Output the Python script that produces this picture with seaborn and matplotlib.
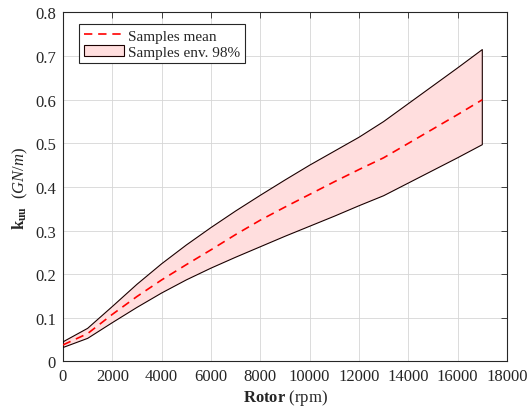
import numpy as np
import pandas as pd
import seaborn as sns
import matplotlib
matplotlib.use("Agg")
import matplotlib.pyplot as plt
from matplotlib.lines import Line2D
from matplotlib.patches import Patch

rpm = [0, 1000, 2000, 3000, 4000, 5000, 6000, 7000, 8000, 9000,
       10000, 11000, 12000, 13000, 14000, 15000, 16000, 17000]
env_upper = [0.045, 0.076, 0.126, 0.177, 0.224, 0.267, 0.307, 0.345, 0.381,
             0.416, 0.450, 0.482, 0.514, 0.550, 0.591, 0.632, 0.673, 0.715]
env_lower = [0.032, 0.053, 0.089, 0.124, 0.157, 0.187, 0.214, 0.239, 0.263,
             0.287, 0.310, 0.333, 0.357, 0.380, 0.409, 0.438, 0.467, 0.497]
mean_vals = [0.038, 0.064, 0.108, 0.149, 0.187, 0.222, 0.256, 0.291, 0.324,
             0.354, 0.383, 0.412, 0.440, 0.467, 0.500, 0.533, 0.566, 0.600]
xticks = [0, 2000, 4000, 6000, 8000, 10000, 12000, 14000, 16000, 18000]
yticks = [0, 0.1, 0.2, 0.3, 0.4, 0.5, 0.6, 0.7, 0.8]

sns.set_theme(style="white")
plt.rcParams['font.family'] = ['Liberation Serif', 'DejaVu Serif']
plt.rcParams['mathtext.fontset'] = 'custom'
plt.rcParams['mathtext.rm'] = 'Liberation Serif'
plt.rcParams['mathtext.bf'] = 'Liberation Serif:bold'
plt.rcParams['mathtext.it'] = 'Liberation Serif:italic'

df = pd.DataFrame({"rpm": rpm, "mean": mean_vals, "lo": env_lower, "hi": env_upper})

fig = plt.figure(figsize=(5.27, 4.14), dpi=100)
ax = fig.add_axes([0.1195, 0.1244, 0.8425, 0.843])

ax.grid(True, color='#d6d6d6', linewidth=0.6, zorder=0)
ax.set_axisbelow(True)

ax.fill_between(df["rpm"], df["lo"], df["hi"], facecolor='#ffdede',
                edgecolor='none', zorder=2)
poly_x = list(df["rpm"]) + list(df["rpm"][::-1]) + [df["rpm"].iloc[0]]
poly_y = list(df["hi"]) + list(df["lo"][::-1]) + [df["hi"].iloc[0]]
ax.plot(poly_x, poly_y, color='#1a0000', linewidth=0.8, zorder=3)

sns.lineplot(data=df, x="rpm", y="mean", ax=ax, color='red', linewidth=1.2,
             linestyle=(0, (5, 3.5)), zorder=4, legend=False)

ax.set_xlim(0, 18000)
ax.set_ylim(0, 0.8)
ax.set_xticks(xticks)
ax.set_yticks(yticks)
ax.set_xticklabels([str(t) for t in xticks])
ax.set_yticklabels(['0' if t == 0 else f"{t:.1f}" for t in yticks])
ax.tick_params(direction='in', length=4, width=0.6, labelsize=12, colors='#262626',
               top=True, right=True, pad=5)
for s in ax.spines.values():
    s.set_color('#262626')
    s.set_linewidth(0.8)

ax.set_xlabel(r"$\mathbf{Rotor}$ (rpm)", fontsize=12, labelpad=2, color='#262626')
ax.set_ylabel(r"$\mathbf{k_{uu}}$  $\mathit{(GN/m)}$", fontsize=12, labelpad=4, color='#262626')

handles = [Line2D([0], [0], color='red', linewidth=1.2, linestyle=(0, (5, 3.5))),
           Patch(facecolor='#ffdede', edgecolor='#1a0000', linewidth=0.8)]
leg = ax.legend(handles, ['Samples mean', 'Samples env. 98%'], loc='upper left',
                bbox_to_anchor=(0.03, 0.975), fontsize=11, frameon=True, fancybox=False,
                edgecolor='#262626', framealpha=1, borderpad=0.3, handlelength=2.6,
                handletextpad=0.3, labelspacing=0.15, borderaxespad=0.2)
leg.get_frame().set_linewidth(0.8)

fig.savefig("out.png", dpi=100)
